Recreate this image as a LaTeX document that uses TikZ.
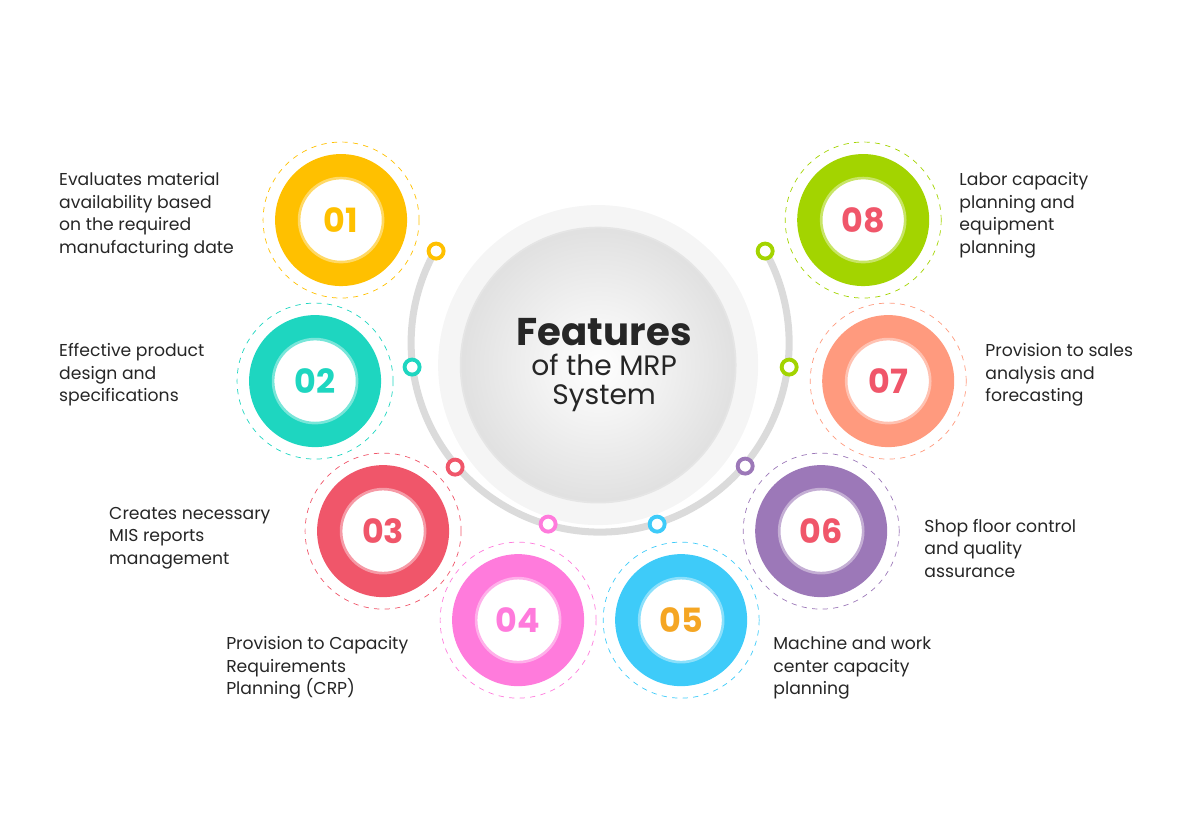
\documentclass[tikz,border=0pt]{standalone}
\usepackage{fontspec}
\setmainfont{Poppins}
\usetikzlibrary{positioning}
\definecolor{cy}{HTML}{FFC000}
\definecolor{ct}{HTML}{1ED6C0}
\definecolor{cr}{HTML}{F0566A}
\definecolor{cp}{HTML}{FF7BDC}
\definecolor{cb}{HTML}{3ECBF9}
\definecolor{cv}{HTML}{9C78B8}
\definecolor{cs}{HTML}{FF9A7E}
\definecolor{cg}{HTML}{A3D400}
\definecolor{numred}{HTML}{F0566A}
\definecolor{numor}{HTML}{F5A623}
\tikzstyle{ringdash} = [circle, dashed, thin, minimum size=3.12cm]
\tikzstyle{disc} = [circle, minimum size=2.64cm]
\tikzstyle{core} = [circle, fill=white, line width=1.5pt, minimum size=1.68cm, font=\bfseries\fontsize{19}{19}\selectfont]
\tikzstyle{dot} = [circle, fill=white, line width=2.2pt, minimum size=0.3cm, inner sep=0pt]
\tikzstyle{txt} = [align=left, anchor=west, font=\fontsize{9.8}{12.8}\selectfont, text=black!85]
\newcommand{\feature}[6]{% name, x, y, colour, number colour, number
  \node (#1r) [ringdash, draw=#4] at (#2*0.02, -#3*0.02) {};
  \node (#1d) [disc, fill=#4] at (#1r) {};
  \node (#1c) [core, draw=#4!60, text=#5] at (#1r) {#6};
}
\begin{document}
\begin{tikzpicture}
\useasboundingbox (0,0) rectangle (24,-16.74);
% background arc and centre
\fill [black!4] (598*0.02,-365*0.02) circle (3.2);
\draw [line width=4pt, black!14] (600*0.02,-343*0.02) ++(150:3.78) arc (150:390:3.78);
\shade [inner color=white, outer color=black!12, draw=black!10, line width=1pt] (598*0.02,-365*0.02) circle (2.75);
\node (title) [align=center, font=\fontsize{16}{17}\selectfont, text=black!85] at (604*0.02,-365*0.02)
  {{\bfseries\fontsize{22}{24}\selectfont Features}\\of the MRP\\System};
% features
\feature{f1}{341}{220}{cy}{cy}{01}
\feature{f2}{315}{381}{ct}{ct}{02}
\feature{f3}{383}{531}{cr}{cr}{03}
\feature{f4}{518}{620}{cp}{cp}{04}
\feature{f5}{681}{620}{cb}{numor}{05}
\feature{f6}{821}{531}{cv}{numred}{06}
\feature{f7}{888}{381}{cs}{numred}{07}
\feature{f8}{863}{220}{cg}{numred}{08}
% dots on the arc
\node (p1) [dot, draw=cy] at (436*0.02,-251*0.02) {};
\node (p2) [dot, draw=ct] at (412*0.02,-367*0.02) {};
\node (p3) [dot, draw=cr] at (455*0.02,-467*0.02) {};
\node (p4) [dot, draw=cp] at (548*0.02,-524*0.02) {};
\node (p5) [dot, draw=cb] at (657*0.02,-524*0.02) {};
\node (p6) [dot, draw=cv] at (745*0.02,-466*0.02) {};
\node (p7) [dot, draw=cg] at (789*0.02,-367*0.02) {};
\node (p8) [dot, draw=cg] at (765*0.02,-251*0.02) {};
% labels
\node (t1) [txt] at (53*0.02,-215*0.02) {Evaluates material\\availability based\\on the required\\manufacturing date};
\node (t2) [txt] at (53*0.02,-375*0.02) {Effective product\\design and\\specifications};
\node (t3) [txt] at (103*0.02,-538*0.02) {Creates necessary\\MIS reports\\management};
\node (t4) [txt] at (220*0.02,-668*0.02) {Provision to Capacity\\Requirements\\Planning (CRP)};
\node (t5) [txt] at (767*0.02,-668*0.02) {Machine and work\\center capacity\\planning};
\node (t6) [txt] at (918*0.02,-548*0.02) {Shop floor control\\and quality\\assurance};
\node (t7) [txt] at (979*0.02,-375*0.02) {Provision to sales\\analysis and\\forecasting};
\node (t8) [txt] at (953*0.02,-215*0.02) {Labor capacity\\planning and\\equipment\\planning};
\end{tikzpicture}
\end{document}
